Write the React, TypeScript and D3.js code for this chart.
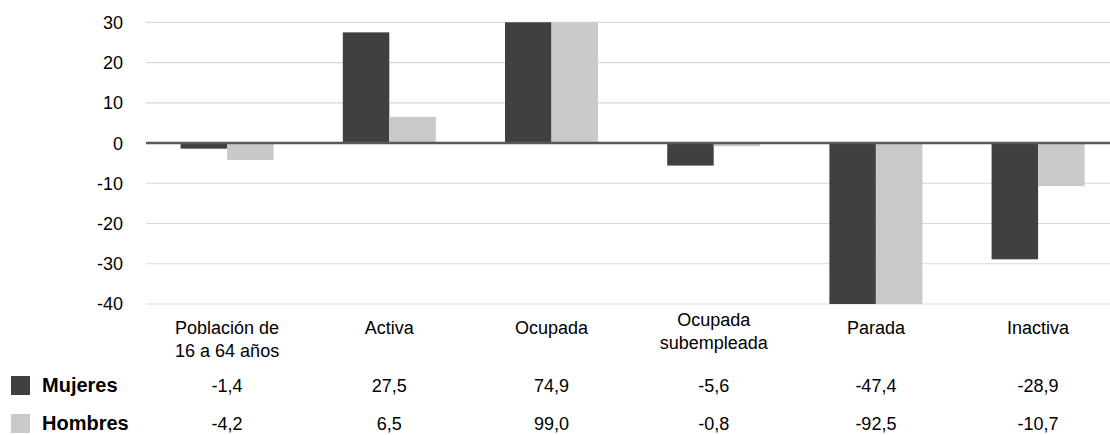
import React from "react";
import * as d3 from "d3";

const categories = ["Población de 16 a 64 años", "Activa", "Ocupada", "Ocupada subempleada", "Parada", "Inactiva"];
const categoryLines = [["Población de", "16 a 64 años"], ["Activa"], ["Ocupada"], ["Ocupada", "subempleada"], ["Parada"], ["Inactiva"]];
const seriesNames = ["Mujeres", "Hombres"];
const mujeres = [-1.4, 27.5, 74.9, -5.6, -47.4, -28.9];
const hombres = [-4.2, 6.5, 99.0, -0.8, -92.5, -10.7];
const yTicks = [30, 20, 10, 0, -10, -20, -30, -40];

const W = 1110;
const H = 435;
const COLORS = ["#404040", "#c9c9c9"];
const FONT = "'Liberation Sans', Arial, Helvetica, sans-serif";

export default function App() {
  const y = d3.scaleLinear().domain([-40, 30]).range([304, 22.3]);
  const x0 = d3.scaleBand<string>().domain(categories).range([146, 1119.2]).padding(0);
  const step = x0.bandwidth();
  const x1 = d3
    .scaleBand<string>()
    .domain(seriesNames)
    .range([0, step])
    .paddingInner(0)
    .paddingOuter((step / 46.5 - 2) / 2);
  const values = [mujeres, hombres];
  const fmt = (v: number) => d3.format(".1f")(v).replace(".", ",").replace("−", "-");
  const clamp = (v: number) => Math.max(-40, Math.min(30, v));

  return (
    <svg
      width={W}
      height={H}
      style={{ position: "absolute", left: 0, top: 0, background: "#fff" }}
      fontFamily={FONT}
    >
      {yTicks.map((t) =>
        t === 0 ? null : (
          <line key={"g" + t} x1={146} x2={W} y1={y(t)} y2={y(t)} stroke="#d9d9d9" strokeWidth={1.2} />
        )
      )}
      {yTicks.map((t) => (
        <text key={"t" + t} x={123} y={y(t)} dy="0.36em" textAnchor="end" fontSize={18} fill="#000">
          {t}
        </text>
      ))}
      {categories.map((c, i) =>
        seriesNames.map((s, j) => {
          const v = clamp(values[j][i]);
          const top = Math.min(y(v), y(0));
          const h = Math.abs(y(v) - y(0));
          return (
            <rect
              key={c + s}
              x={(x0(c) as number) + (x1(s) as number)}
              y={top}
              width={x1.bandwidth()}
              height={h}
              fill={COLORS[j]}
            />
          );
        })
      )}
      <line x1={146} x2={W} y1={y(0)} y2={y(0)} stroke="#595959" strokeWidth={2.5} />
      {categories.map((c, i) => {
        const cx = (x0(c) as number) + step / 2;
        const lines = categoryLines[i];
        const first = lines.length > 1 && i > 0 ? 326 : 334;
        return (
          <text key={"c" + c} x={cx} textAnchor="middle" fontSize={18} fill="#000">
            {lines.map((l, k) => (
              <tspan key={k} x={cx} y={first + k * 23}>
                {l}
              </tspan>
            ))}
          </text>
        );
      })}
      {seriesNames.map((s, j) => {
        const by = j === 0 ? 392 : 430;
        return (
          <g key={"row" + s}>
            <rect x={11} y={by - 16} width={19} height={19} fill={COLORS[j]} />
            <text x={42} y={by} fontSize={20} fontWeight="bold" fill="#000">
              {s}
            </text>
            {categories.map((c, i) => (
              <text
                key={"v" + c}
                x={(x0(c) as number) + step / 2}
                y={by}
                textAnchor="middle"
                fontSize={18}
                fill="#000"
              >
                {fmt(values[j][i])}
              </text>
            ))}
          </g>
        );
      })}
    </svg>
  );
}
